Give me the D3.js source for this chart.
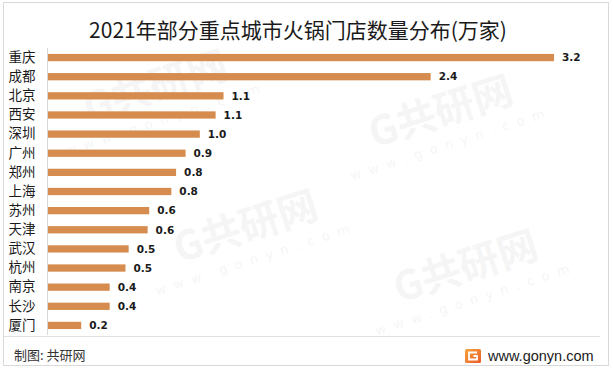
<!DOCTYPE html>
<html>
<head>
<meta charset="utf-8">
<script src="https://cdn.jsdelivr.net/npm/d3@7"></script>
<style>
  body { margin: 0; background: #fff; }
  svg { display: block; }
</style>
</head>
<body>
<div class="container"></div>
<script>
const cities = ["重庆","成都","北京","西安","深圳","广州","郑州","上海","苏州","天津","武汉","杭州","南京","长沙","厦门"]
const counts = [3.2, 2.42, 1.11, 1.06, 0.96, 0.87, 0.81, 0.78, 0.64, 0.63, 0.51, 0.49, 0.39, 0.39, 0.21]
const title = "2021年部分重点城市火锅门店数量分布(万家)"
const source = "制图: 共研网"
const site = "www.gonyn.com"

const width = 613
const height = 369
const barColor = "#d68c4e"
const fmt = d3.format(".1f")

const svg = d3.select(".container").append("svg")
    .attr("width", width)
    .attr("height", height)

// watermarks, very faint
const marks = [[160, 100], [445, 125], [250, 240], [470, 280]]
marks.forEach(([x, y]) => {
    const g = svg.append("g")
        .attr("transform", `translate(${x},${y}) rotate(-18)`)
        .attr("fill", "#000")
        .attr("opacity", 0.035)
    g.append("text")
        .attr("font-family", "Noto Sans CJK SC")
        .attr("font-weight", "bold")
        .attr("font-size", 40)
        .attr("text-anchor", "middle")
        .text("G共研网")
    g.append("text")
        .attr("y", 24)
        .attr("font-family", "DejaVu Sans")
        .attr("font-size", 13)
        .attr("letter-spacing", 8)
        .attr("text-anchor", "middle")
        .text(site)
})

// frame
svg.append("rect")
    .attr("x", 3.5).attr("y", 2.5)
    .attr("width", 605).attr("height", 363)
    .attr("fill", "none")
    .attr("stroke", "#d9d9d9")

svg.append("line")
    .attr("x1", 3.5).attr("x2", 600)
    .attr("y1", 336.5).attr("y2", 336.5)
    .attr("stroke", "#e0e0e0")

svg.append("text")
    .attr("x", 298).attr("y", 38)
    .attr("text-anchor", "middle")
    .attr("font-family", "Noto Sans CJK SC")
    .attr("font-size", 21)
    .attr("fill", "#1a1a1a")
    .text(title)

const xScale = d3.scaleLinear()
    .domain([0, 3.2])
    .range([48, 554])

const yScale = d3.scaleBand()
    .domain(cities)
    .range([48, 335])
    .paddingInner(0.62)
    .paddingOuter(0.31)

svg.selectAll(".bar")
    .data(cities)
    .enter()
    .append("rect")
    .attr("class", "bar")
    .attr("x", xScale(0))
    .attr("y", d => yScale(d))
    .attr("width", (d, i) => xScale(counts[i]) - xScale(0))
    .attr("height", yScale.bandwidth())
    .attr("fill", barColor)

svg.selectAll(".val")
    .data(cities)
    .enter()
    .append("text")
    .attr("class", "val")
    .attr("x", (d, i) => xScale(counts[i]) + 8)
    .attr("y", d => yScale(d) + yScale.bandwidth() / 2)
    .attr("dy", "0.36em")
    .attr("font-family", "DejaVu Sans")
    .attr("font-weight", "bold")
    .attr("font-size", 10.5)
    .attr("fill", "#1a1a1a")
    .text((d, i) => fmt(counts[i]))

const yAxis = d3.axisLeft(yScale).tickSize(0).tickPadding(12)

const axisG = svg.append("g")
    .attr("transform", `translate(47.5,0)`)
    .call(yAxis)
axisG.select(".domain").attr("stroke", "#d9d9d9").attr("d", "M0,48V335")
axisG.selectAll("text")
    .attr("font-family", "Noto Sans CJK SC")
    .attr("font-size", 13.5)
    .attr("fill", "#1a1a1a")

// footer
svg.append("text")
    .attr("x", 14).attr("y", 360)
    .attr("font-family", "Noto Sans CJK SC")
    .attr("font-size", 13)
    .attr("fill", "#333")
    .text(source)

const grad = svg.append("defs").append("linearGradient")
    .attr("id", "logo").attr("x1", 0).attr("y1", 0).attr("x2", 1).attr("y2", 1)
grad.append("stop").attr("offset", 0).attr("stop-color", "#f7a43a")
grad.append("stop").attr("offset", 1).attr("stop-color", "#ec5b2b")

svg.append("rect")
    .attr("x", 465).attr("y", 349)
    .attr("width", 16).attr("height", 14)
    .attr("rx", 1.5)
    .attr("fill", "url(#logo)")
svg.append("path")
    .attr("d", "M477,352.5H469V359.5H477V356H473.5")
    .attr("fill", "none")
    .attr("stroke", "#fff")
    .attr("stroke-width", 1.8)

svg.append("text")
    .attr("x", 488).attr("y", 361)
    .attr("font-family", "Liberation Sans")
    .attr("font-size", 14.5)
    .attr("fill", "#1a1a1a")
    .text(site)
</script>
</body>
</html>
